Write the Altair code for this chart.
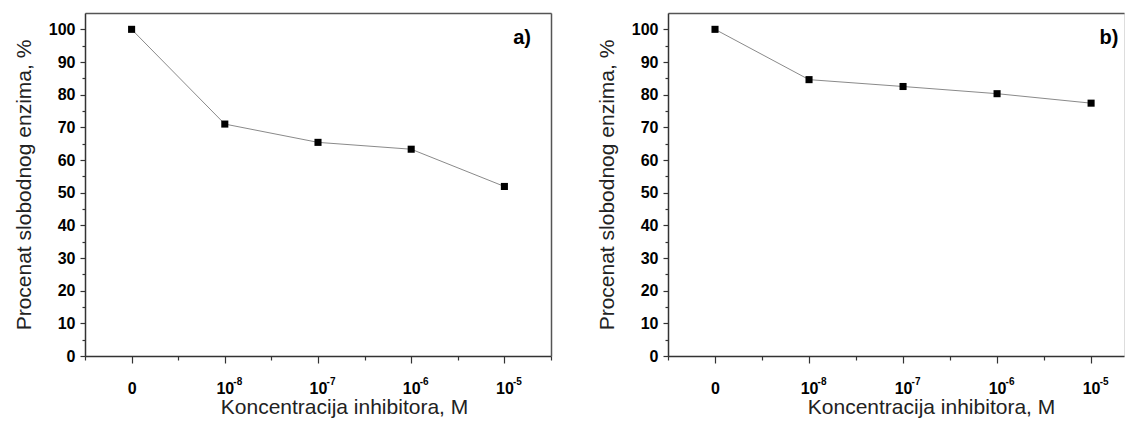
import altair as alt
import pandas as pd

tick_base = ["0", "10", "10", "10", "10"]
tick_exp = ["", "-8", "-7", "-6", "-5"]
values_a = [100, 71.0, 65.4, 63.3, 51.9]
values_b = [100, 84.6, 82.5, 80.3, 77.4]
y_ticks = list(range(0, 101, 5))
x_ticks = [-0.5, 0, 0.5, 1, 1.5, 2, 2.5, 3, 3.5, 4, 4.5]
panel_labels = ["a)", "b)"]
x_title = "Koncentracija inhibitora, M"
y_title = "Procenat slobodnog enzima, %"

FONT = "Liberation Sans"
base_js = "[" + ",".join("'" + c + "'" for c in tick_base) + "]"
AX = "#333333"
FRAME = "#555555"


def panel(values, label, width, xmax, title_x, right_frame):
    n = len(tick_base)
    df = pd.DataFrame({"idx": list(range(n)), "val": values})
    ex = pd.DataFrame({"idx": list(range(n)), "val": [0] * n, "e": tick_exp})
    lab = pd.DataFrame({"idx": [4.19], "val": [97.5], "t": [label]})
    xs = alt.Scale(domain=[-0.5, xmax], nice=False, zero=False)
    ys = alt.Scale(domain=[0, 105], nice=False, zero=False)
    xt = [v for v in x_ticks if v <= xmax]

    x_axis = alt.Axis(
        values=xt,
        labelExpr="(datum.value % 1 == 0 && datum.value >= 0) ? " + base_js + "[datum.value] : ''",
        tickSize={"condition": {"test": "datum.value % 1 != 0", "value": 4}, "value": 7},
        title=x_title, titleX=title_x,
        labelPadding=17, titlePadding=0, grid=False,
    )
    y_axis = alt.Axis(
        values=y_ticks,
        labelExpr="datum.value % 10 == 0 ? datum.label : ''",
        tickSize={"condition": {"test": "datum.value % 10 != 0", "value": 3}, "value": 5},
        title=y_title, labelPadding=5, titlePadding=14, grid=False,
    )
    frame_x = alt.Axis(orient="top", labels=False, ticks=False, title=None, grid=False,
                       domainColor=FRAME)
    frame_y = alt.Axis(orient="right", labels=False, ticks=False, title=None, grid=False,
                       domainColor=FRAME, domainOpacity=1 if right_frame else 0)

    line = alt.Chart(df).mark_line(color="#8a8a8a", strokeWidth=1).encode(
        x=alt.X("idx:Q", scale=xs, axis=x_axis),
        y=alt.Y("val:Q", scale=ys, axis=y_axis),
        order="idx:Q",
    )
    pts = alt.Chart(df).mark_square(color="black", size=50, opacity=1).encode(
        x=alt.X("idx:Q", scale=xs, axis=frame_x),
        y=alt.Y("val:Q", scale=ys, axis=frame_y),
    )
    exps = alt.Chart(ex).mark_text(font=FONT, fontSize=10, fontWeight="bold", color="black",
                                   align="center", baseline="alphabetic", dx=13, dy=29).encode(
        x=alt.X("idx:Q", scale=xs, axis=None),
        y=alt.Y("val:Q", scale=ys, axis=None),
        text="e:N",
    )
    txt = alt.Chart(lab).mark_text(font=FONT, fontSize=20, fontWeight="bold", color="black").encode(
        x=alt.X("idx:Q", scale=xs, axis=None),
        y=alt.Y("val:Q", scale=ys, axis=None),
        text="t:N",
    )
    return alt.layer(line, pts, exps, txt).resolve_axis(x="independent", y="independent").properties(
        width=width, height=343
    )


a = panel(values_a, panel_labels[0], 466, 4.5, 259, True)
b = panel(values_b, panel_labels[1], 456, 4.35, 263, False)

chart = alt.hconcat(a, b, spacing=42).configure_view(stroke=None).configure(
    padding={"left": 4, "top": 4, "right": 0, "bottom": 0}
).configure_axis(
    labelFont=FONT, labelFontSize=16, labelFontWeight="bold", labelColor="black",
    titleFont=FONT, titleFontSize=21, titleFontWeight="normal", titleColor="#222222",
    domainColor=AX, domainWidth=1.5, tickColor=AX, tickWidth=1.2,
)

chart.save("out.html", embed_options={"renderer": "svg", "actions": False})
